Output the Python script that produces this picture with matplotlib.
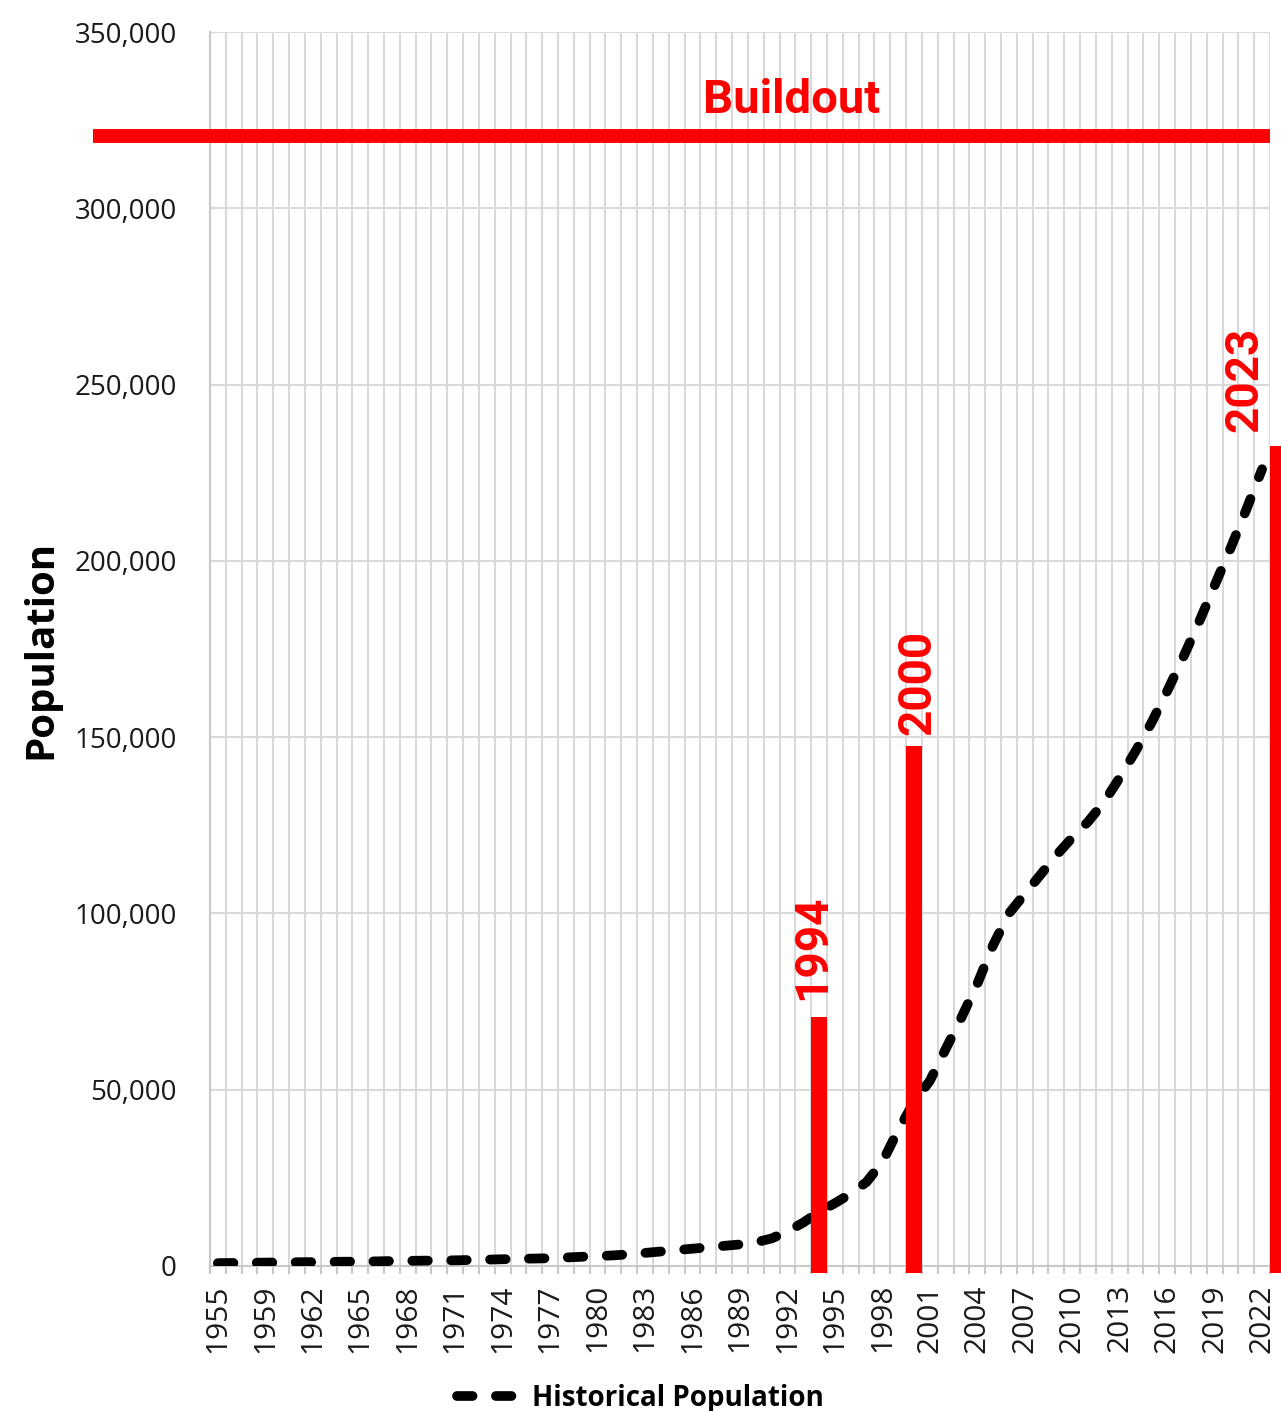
import numpy as np
import matplotlib
matplotlib.use('Agg')
import matplotlib.pyplot as plt
from matplotlib.ticker import FuncFormatter

# historical population by year (categorical axis, one gap after 1955)
years = [1955, 1957, 1958, 1959, 1960, 1961, 1962, 1963, 1964, 1965, 1966, 1967,
         1968, 1969, 1970, 1971, 1972, 1973, 1974, 1975, 1976, 1977, 1978, 1979,
         1980, 1981, 1982, 1983, 1984, 1985, 1986, 1987, 1988, 1989, 1990, 1991,
         1992, 1993, 1994, 1995, 1996, 1997, 1998, 1999, 2000, 2001, 2002, 2003,
         2004, 2005, 2006, 2007, 2008, 2009, 2010, 2011, 2012, 2013, 2014, 2015,
         2016, 2017, 2018, 2019, 2020, 2021, 2022]
population = [800, 850, 900, 950, 1000, 1050, 1100, 1150, 1200, 1250, 1300, 1400,
              1450, 1500, 1550, 1600, 1700, 1800, 1900, 2000, 2100, 2200, 2400, 2600,
              2800, 3000, 3300, 3700, 4100, 4500, 4900, 5300, 5700, 6100, 6700, 7800,
              9800, 12300, 15300, 17800, 20500, 23800, 29500, 38500, 46500, 52500, 61500, 70500,
              80000, 91000, 100000, 105500, 111000, 116500, 121500, 126000, 131500, 138500, 146000, 154000,
              163000, 172500, 182500, 193000, 203500, 214500, 226000]

# red marker bars
marker_years = [1994, 2000, 2023]
marker_tops = [70600, 147500, 232600]
buildout = 320500

axis_font = 'Open Sans'
red_font = 'Roboto'

fig = plt.figure(figsize=(12.81, 14.11), dpi=100)
ax = fig.add_axes([0.1639, 0.1028, 0.8275, 0.8745])

x = np.arange(len(years))
line, = ax.plot(x, population, color='black', lw=7, dashes=(1.6, 2.4),
                dash_capstyle='round', label='Historical Population', zorder=3)

# bars drawn at the year's category position (2023 sits one past the last one)
bar_bottom = -2000
for yr, top in zip(marker_years, marker_tops):
    pos = years.index(yr) if yr in years else len(years) - 1 + (yr - years[-1])
    ax.bar(pos, top - bar_bottom, bottom=bar_bottom, width=1.0, color='#ff0000',
           clip_on=False, zorder=4)

label_x = [37.55, 44.2, 64.9]
label_y = [75400, 150600, 236500]
for yr, lx, ly in zip(marker_years, label_x, label_y):
    ax.text(lx, ly, str(yr), rotation=90, ha='center', va='bottom', color='#ff0000',
            fontsize=33, fontweight='bold', family=red_font, zorder=5)

ax.axhline(buildout, xmin=-0.11, xmax=1.0, color='#ff0000', lw=10, clip_on=False,
           solid_capstyle='butt', zorder=4)
ax.text(0.549, 330700, 'Buildout', transform=ax.get_yaxis_transform(), ha='center',
        va='center', color='#ff0000', fontsize=34, fontweight='bold', family=red_font)

ax.set_xlim(-0.5, len(years) - 0.5)
ax.set_ylim(0, 350000)
ax.set_yticks(np.arange(0, 350001, 50000))
ax.yaxis.set_major_formatter(FuncFormatter(lambda v, p: f'{int(v):,}'))
ax.set_xticks(x[::3])
ax.set_xticklabels([str(y) for y in years[::3]], rotation=90)
ax.set_xticks(np.arange(-0.5, len(years), 1), minor=True)

for lab in ax.get_yticklabels():
    lab.set_family(axis_font)
    lab.set_fontsize(20)
    lab.set_color('#1a1a1a')
for lab in ax.get_xticklabels():
    lab.set_family(axis_font)
    lab.set_fontsize(21.5)
    lab.set_color('#1a1a1a')

ax.tick_params(axis='x', which='major', length=0, pad=13)
ax.tick_params(axis='x', which='minor', length=6, width=1.5, color='#c8c8c8')
ax.tick_params(axis='y', length=0, pad=24)

ax.grid(True, axis='x', which='minor', color='#d9d9d9', lw=1.5, zorder=0)
ax.grid(True, axis='y', which='major', color='#d9d9d9', lw=1.5, zorder=0)
ax.set_axisbelow(True)

for s in ['top', 'right']:
    ax.spines[s].set_visible(False)
ax.spines['left'].set_color('#c8c8c8')
ax.spines['bottom'].set_color('#c8c8c8')
ax.spines['left'].set_linewidth(1.5)
ax.spines['bottom'].set_linewidth(1.5)

ax.set_ylabel('Population', fontsize=29, fontweight='bold', family=axis_font)
ax.yaxis.set_label_coords(-0.141, 0.5)

fig.legend(handles=[line], loc='lower center', bbox_to_anchor=(0.5, -0.019),
           frameon=False, handlelength=2.4, handletextpad=0.3,
           prop={'family': axis_font, 'weight': 'bold', 'size': 20})

fig.savefig('out.png', dpi=100)
